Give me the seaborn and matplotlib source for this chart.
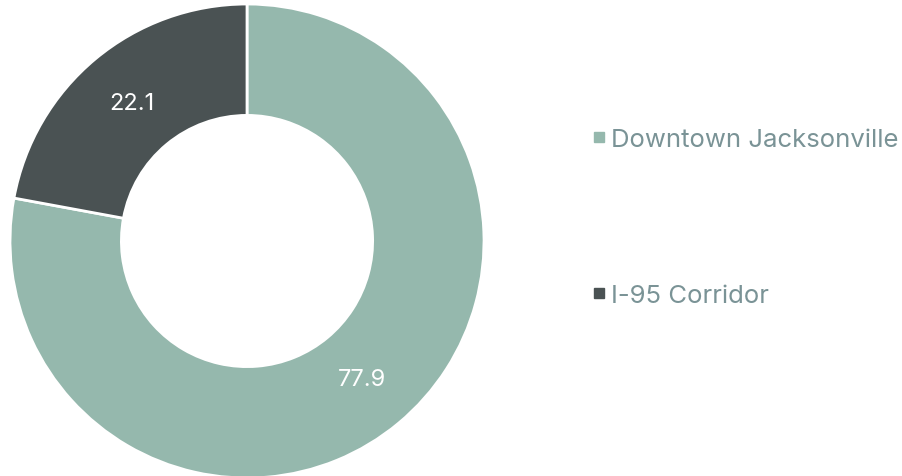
import matplotlib.pyplot as plt
from matplotlib.lines import Line2D
import seaborn as sns

# chart data
categories = ["Downtown Jacksonville", "I-95 Corridor"]
values = [77.9, 22.1]
value_labels = ["77.9", "22.1"]

# plotting housekeeping
sns.set_theme(style="white")
plt.rcParams["font.family"] = ["Inter", "DejaVu Sans"]
palette = sns.color_palette(["#95b8ad", "#4a5253"])

fig = plt.figure(figsize=(9.02, 4.77), dpi=100)
ax = fig.add_axes([0.0111, -0.0042, 0.5255, 0.9937])

wedges, texts = ax.pie(
    values,
    colors=palette,
    startangle=90,
    counterclock=False,
    labels=value_labels,
    labeldistance=0.76,
    wedgeprops=dict(width=0.47, edgecolor="white", linewidth=2),
    textprops=dict(color="white", fontsize=17, ha="center", va="center"),
)
ax.set_xlim(-1, 1)
ax.set_ylim(-1, 1)
ax.set_aspect("equal")

# legend on the right
handles = [
    Line2D([0], [0], marker="s", linestyle="", markersize=7, color=c)
    for c in palette
]
leg = fig.legend(
    handles,
    categories,
    loc="upper left",
    bbox_to_anchor=(0.628, 0.778),
    frameon=False,
    labelspacing=5.17,
    handletextpad=0.15,
    handlelength=0.7,
    fontsize=18.5,
)
for t in leg.get_texts():
    t.set_color("#7a9396")

plt.savefig("out.png", dpi=100)
